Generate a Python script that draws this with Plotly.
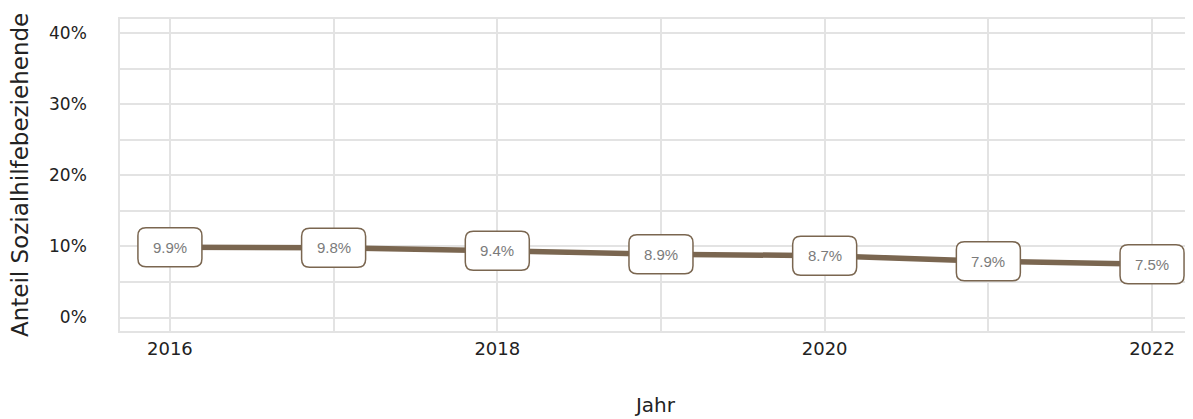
import plotly.graph_objects as go

years = [2016, 2017, 2018, 2019, 2020, 2021, 2022]
values = [9.9, 9.8, 9.4, 8.9, 8.7, 7.9, 7.5]
labels = ["9.9%", "9.8%", "9.4%", "8.9%", "8.7%", "7.9%", "7.5%"]
y_ticks = [0, 10, 20, 30, 40]
y_ticktext = ["0%", "10%", "20%", "30%", "40%"]
x_ticks = [2016, 2018, 2020, 2022]

line_color = "#7a6650"
grid_color = "#e3e3e3"

fig = go.Figure()
fig.add_trace(go.Scatter(
    x=years, y=values, mode="lines",
    line=dict(color=line_color, width=5.5),
    hoverinfo="skip", showlegend=False,
))

# rounded label boxes, sized in pixels, anchored at data points
hw, hh, r = 32, 19.5, 8
path = (f"M {-hw + r},{-hh} L {hw - r},{-hh} Q {hw},{-hh} {hw},{-hh + r} "
        f"L {hw},{hh - r} Q {hw},{hh} {hw - r},{hh} L {-hw + r},{hh} "
        f"Q {-hw},{hh} {-hw},{hh - r} L {-hw},{-hh + r} Q {-hw},{-hh} {-hw + r},{-hh} Z")
for x, y, t in zip(years, values, labels):
    fig.add_shape(type="path", xref="x", yref="y", xsizemode="pixel", ysizemode="pixel",
                  xanchor=x, yanchor=y, path=path, fillcolor="white",
                  line=dict(color=line_color, width=1.5), layer="above")
    fig.add_annotation(x=x, y=y, xref="x", yref="y", text=t, showarrow=False,
                       font=dict(family="Liberation Sans, Arial", size=15, color="#7b7b7b"))

# y-axis title as rotated text, placed in the left margin
fig.add_annotation(x=0, y=0.5, xref="paper", yref="paper", xanchor="center", yanchor="middle",
                   xshift=-100, textangle=-90, showarrow=False,
                   text="Anteil Sozialhilfebeziehende",
                   font=dict(family="DejaVu Sans", size=23, color="#222222"))

fig.update_layout(
    width=1185, height=411,
    margin=dict(l=112, r=0, t=11, b=88),
    paper_bgcolor="white", plot_bgcolor="white",
    font=dict(family="DejaVu Sans", color="#222222"),
    xaxis=dict(
        range=[2015.695, 2022.238], tickvals=x_ticks, ticktext=[str(v) for v in x_ticks],
        showgrid=True, gridcolor=grid_color, gridwidth=1.5,
        minor=dict(dtick=1, tick0=2016, showgrid=True, gridcolor=grid_color, gridwidth=1.5),
        showline=True, linecolor=grid_color, linewidth=1.5, mirror=True,
        zeroline=False, ticks="outside", ticklen=1, tickcolor="rgba(0,0,0,0)",
        tickfont=dict(size=18, color="#222222"),
        title=dict(text="Jahr", font=dict(size=20, color="#222222"), standoff=40),
    ),
    yaxis=dict(
        range=[-1.9, 42], tickvals=y_ticks, ticktext=y_ticktext,
        showgrid=True, gridcolor=grid_color, gridwidth=1.5,
        minor=dict(dtick=5, tick0=0, showgrid=True, gridcolor=grid_color, gridwidth=1.5),
        showline=True, linecolor=grid_color, linewidth=1.5, mirror=True,
        zeroline=False, ticks="outside", ticklen=28, tickcolor="rgba(0,0,0,0)",
        tickfont=dict(size=17, color="#222222"),
    ),
)

fig.write_html("out.html")
